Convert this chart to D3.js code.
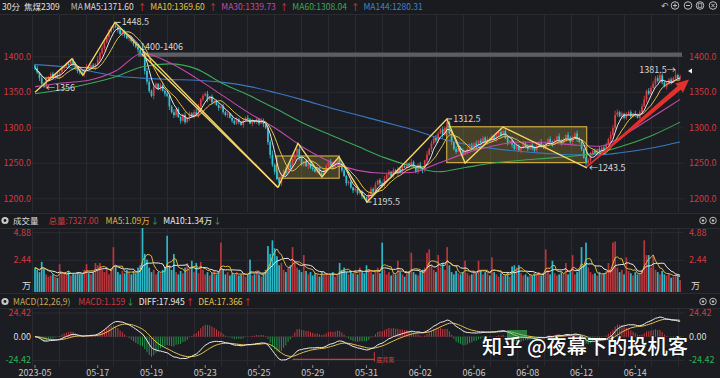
<!DOCTYPE html>
<html><head><meta charset="utf-8">
<script src="https://cdn.jsdelivr.net/npm/d3@7"></script>
<style>
html,body{margin:0;padding:0;background:#1c1d22;}
svg{display:block;font-family:"Noto Sans CJK SC","Noto Sans",sans-serif;}
</style></head>
<body><svg id="c" width="720" height="378"></svg>
<script>
// ---------------- DATA ----------------
const firstOpen = 1388;
const closes = [
1384,1378,1370,1362,1358, 1368,1372,1376,1370,1374,1372, 1378,1384,1386,1390,1388,1394, 1390,1384,1380,1378,1376, 1382,1386,1384,1388,1385,1390,
1396,1405,1412,1420,1428,1435,1440,1444, 1442,1438,1432,1436,1430,1426,1428,1422, 1418,1414,1410,1405,1402,
1380,1365,1352,1345,1358, 1362,1355,1360,1352,1348,1345, 1330,1322,1318,1326,1315, 1310,1318,1308,1314,1320,1316,
1322,1318,1330,1340,1345, 1348,1340,1344,1336,1338, 1332,1328,1330,1322,1318,1320,
1314,1310,1306,1312,1308,1304,1310,1314,1312,1306,1310, 1308,1312,1306,1310,1305,1300,
1280,1262,1248,1238,1228,1222, 1232,1240,1236,1248,1244,1256,1262, 1270,1258,1248,1252,1246,
1250,1244,1242,1238,1244,1236,1234, 1240,1246,1252,1248,1244,1250,1256,1250, 1240,1232,1222,1224,1216,1212,
1214,1208,1210,1204,1202,1198,1206, 1214,1210,1220,1226,1222,1218,1228, 1234,1238,1232,1240,1236,1242,1238,1246,1244,
1250,1246,1252,1244,1238,1248,1242, 1240,1254,1262,1270,1278,1286,1282, 1292,1298,1290,1300,1308,
1292,1280,1270,1266,1272,1268,1262,1266, 1270,1276,1272,1278,1274,1282,1278,1286,
1280,1284,1282,1288,1284,1290,1294,1290,1296, 1286,1278,1282,1276,1270,1274,1268,1272,1278,1274,1270,
1276,1272,1268,1274,1280,1276,1272,1278,1284,1280,1276,1282, 1288,1282,1278,1284,1290,1286,1280,1286,1292,1284,1280,
1270,1258,1250,1254, 1262,1268,1264,1270,1266,1272,1268,1276, 1284,1290,1300,1318,
1322,1316,1320,1314,1318,1322,1316,1320,1318,1314,1322, 1330,1340,1352,1348,1356,
1362,1370,1366,1374,1364,1358, 1362,1368,1364,1370,1374,1370,1372];
const wickHi = ("2313241232 3142231423 2314223152 3424325232 2431324253 4325213423 3241322413 2354232413 2231423142 3213242313 " +
 "2431536242 3252413243 2413224132 3241523142 2314232213 3241324231 4231423142 3243152424 3242523142 2314232413 " +
 "3242314253 2413243142 3142324132 4231423142 3243412342 3142432546 4231423142 3452434344 324232823").replace(/ /g,"");
const wickLo = ("3242231423 2314231423 3142231423 2314232413 3142324215 4325423142 5243142314 2314231423 3142324132 2314231423 " +
 "3142453425 4231423142 3142314231 2413242314 3242324232 4231423142 3142314231 2314231423 3142314231 2314231423 " +
 "3142314231 2314231423 3142314231 2314231423 3142326342 2314231423 3142314231 2314231423 314231423").replace(/ /g,"");
// volume per bar, in thousands of lots
const volumes = [
18,16,14,23,17,12,10,11,12,10, 9,21,14,13,12,15,11,13,12,14, 12,13,16,21,13,12,14,22,20,22,
16,14,18,12,15,36,19,14,12,15, 13,16,14,12,15,13,18,20,54,30, 25,18,14,16,12,14,13,16,18,46,
20,16,30,14,12,15,13,18,22,16, 24,14,22,13,23,16,12,14,11,13, 15,12,14,40,16,12,14,11,13,12,
14,11,12,13,10,12,25,11,12,14, 12,10,13,16,37,30,42,35,28,20, 22,16,14,18,20,36,24,18,16,14,
29,15,12,14,11,13,12,10,14,12, 13,11,12,14,10,12,22,16,18,14, 12,15,13,16,12,18,14,13,20,16,
14,12,15,18,13,40,16,12,14,11, 13,12,24,14,12,10,13,15,31,14, 12,11,14,16,18,31,34,20,16,14,
29,18,22,16,36,20,14,12,15,13, 12,14,24,13,11,12,14,13,24,15, 12,14,13,11,27,14,12,10,13,11,
12,14,10,19,20,18,20,13,11,12, 10,12,11,13,12,14,11,13,34,16, 12,24,13,11,12,14,13,22,12,14,
29,12,14,16,36,20,40,18,14,12, 13,11,14,12,13,15,22,16,40,41, 18,14,16,12,27,15,13,11,14,12,
13,16,42,29,29,18,28,16,14,12, 15,12,11,13,9,10,12,11,7];
// slow moving averages, one value per trading day (every 12 bars)
const ma30Daily  = [1358,1363,1367,1380,1405,1392,1370,1345,1320,1298,1272,1252,1240,1236,1237,1250,1264,1274,1280,1279,1276,1274,1292,1316,1340];
const ma60Daily  = [1348,1354,1362,1372,1386,1390,1383,1362,1345,1326,1306,1290,1274,1258,1246,1238,1244,1250,1254,1257,1260,1265,1276,1290,1308];
const ma144Daily = [1389,1386,1380,1373,1370,1368,1367,1364,1358,1349,1339,1328,1318,1308,1298,1286,1277,1271,1267,1264,1262,1262,1266,1272,1280];
const tickIdx    = [0,28,52,76,100,124,148,172,196,220,244,268];
const tickLabels = ["2023-05","05-17","05-19","05-23","05-25","05-29","05-31","06-02","06-06","06-08","06-12","06-14"];
const priceTicks = [1400,1350,1300,1250,1200];
const volTicks   = [4.88,2.44];      // in 万 (10k lots)
const macdTicks  = [24.42,0,-24.42];
// drawn annotations: [bar index, price]
const zigMain  = [[0,1350],[16.5,1397],[21.4,1374],[35.7,1448.5],[108.5,1216]];
const zigPar   = [[47.7,1404],[108.5,1216]];
const zigSecond= [[108.5,1216],[117.4,1278],[128.1,1231],[135.7,1259],[148.2,1195.5],[183.9,1312.5],[192,1250.4],[208.9,1301],[246.4,1243.5]];
const boxes    = [[107.9,135.8,1229,1260.3],[183.8,246.3,1251,1301.5]];
const band     = [46,1400,1406];
const redArrow = [[246.3,1245],[292,1368]];
const pointLabels = [[36,1448.5,"1448.5","r"],[4,1356,"1356","l"],[148,1195.5,"1195.5","r"],[184,1312.5,"1312.5","r"],[246.4,1243.5,"1243.5","l"],[286.5,1381.5,"1381.5","rr"]];

// ---------------- DERIVED ----------------
const N = closes.length;
const opens = closes.map((c,i)=> i===0 ? firstOpen : closes[i-1]);
const highs = closes.map((c,i)=> Math.max(c,opens[i]) + (+wickHi[i]));
const lows  = closes.map((c,i)=> Math.min(c,opens[i]) - (+wickLo[i]));
function sma(arr,n){return arr.map((v,i)=>{const s=Math.max(0,i-n+1);const a=arr.slice(s,i+1);return d3.mean(a);});}
function ema(arr,n){const k=2/(n+1);const o=[];arr.forEach((v,i)=>o.push(i===0?v:v*k+o[i-1]*(1-k)));return o;}
const ma5 = sma(closes,5), ma10 = sma(closes,10);
const volW = volumes.map(v=>v/10);   // 万
const vma5 = sma(volW,5), vma10 = sma(volW,10);
const e12 = ema(closes,12), e26 = ema(closes,26);
const diff = e12.map((v,i)=>v-e26[i]);
const dea = ema(diff,9);
const hist = diff.map((v,i)=>2*(v-dea[i]));

// ---------------- SCALES ----------------
const svg = d3.select("#c");
const x = d3.scaleLinear().domain([0,288]).range([35,680.1]);
const y = d3.scaleLinear().domain([1200,1400]).range([198.8,56.8]);
const yv = d3.scaleLinear().domain([0,4.88]).range([288,232.6]);
const ym = d3.scaleLinear().domain([-24.42,24.42]).range([360.4,313.0]);
const L=32, R=684;
const P = {main:[14,212], vol:[228,292], macd:[308,366]};

const defs = svg.append("defs");
Object.entries(P).forEach(([k,[t,b]])=>{
  defs.append("clipPath").attr("id","clip-"+k).append("rect").attr("x",L).attr("y",t).attr("width",R-L).attr("height",b-t);
});

svg.append("rect").attr("x",0).attr("y",0).attr("width",720).attr("height",14).attr("fill","#1a1b1f");
svg.append("rect").attr("x",0).attr("y",213).attr("width",720).attr("height",15).attr("fill","#1a1b1f");
svg.append("rect").attr("x",0).attr("y",293).attr("width",720).attr("height",15).attr("fill","#1a1b1f");
[14,213,228,293,308].forEach(v=>svg.append("line").attr("x1",0).attr("x2",720).attr("y1",v+0.5).attr("y2",v+0.5).attr("stroke","#2b2c32"));

const grid = svg.append("g").attr("stroke","#2a2b31").attr("stroke-width",1);
d3.range(25).forEach(k=>{
  const gx = Math.round(32+26.93*k)+0.5;
  Object.values(P).forEach(([t,b])=>grid.append("line").attr("x1",gx).attr("x2",gx).attr("y1",t).attr("y2",b));
});
priceTicks.forEach(p=>grid.append("line").attr("x1",L).attr("x2",R).attr("y1",y(p)).attr("y2",y(p)));
volTicks.forEach(v=>grid.append("line").attr("x1",L).attr("x2",R).attr("y1",yv(v)).attr("y2",yv(v)));
macdTicks.forEach(v=>grid.append("line").attr("x1",L).attr("x2",R).attr("y1",ym(v)).attr("y2",ym(v)));

// ---------------- MAIN PANEL ----------------
const gm = svg.append("g").attr("clip-path","url(#clip-main)");
gm.append("rect").attr("x",x(band[0])).attr("width",682-x(band[0])).attr("y",y(band[2])).attr("height",y(band[1])-y(band[2])).attr("fill","#5d5e63");
boxes.forEach(b=>gm.append("rect").attr("x",x(b[0])).attr("width",x(b[1])-x(b[0])).attr("y",y(b[3])).attr("height",y(b[2])-y(b[3]))
  .attr("fill","rgba(170,150,60,0.30)").attr("stroke","#c9a843").attr("stroke-width",1.2));

const up = "#d8414a", dn = "#33c3cf";
const cg = gm.append("g");
closes.forEach((c,i)=>{
  const col = c>=opens[i]?up:dn;
  cg.append("line").attr("x1",x(i)).attr("x2",x(i)).attr("y1",y(highs[i])).attr("y2",y(lows[i])).attr("stroke",col).attr("stroke-width",0.8);
  const yt=y(Math.max(c,opens[i])), yb=y(Math.min(c,opens[i]));
  cg.append("rect").attr("x",x(i)-0.85).attr("width",1.7).attr("y",yt).attr("height",Math.max(0.8,yb-yt)).attr("fill",col);
});
const lineI = d3.line().x((d,i)=>x(i)).y(d=>y(d));
const lineD = d3.line().x((d,k)=>x(k*12)).y(d=>y(d)).curve(d3.curveMonotoneX);
gm.append("path").attr("d",lineD(ma144Daily)).attr("fill","none").attr("stroke","#3a78c2").attr("stroke-width",1.1);
gm.append("path").attr("d",lineD(ma60Daily)).attr("fill","none").attr("stroke","#3aa856").attr("stroke-width",1.1);
gm.append("path").attr("d",lineD(ma30Daily)).attr("fill","none").attr("stroke","#c24aa8").attr("stroke-width",1.1);
gm.append("path").attr("d",lineI(ma10)).attr("fill","none").attr("stroke","#e3c248").attr("stroke-width",1);
gm.append("path").attr("d",lineI(ma5)).attr("fill","none").attr("stroke","#e6e6e6").attr("stroke-width",1);

const zl = d3.line().x(d=>x(d[0])).y(d=>y(d[1]));
[zigMain,zigPar,zigSecond].forEach(z=>gm.append("path").attr("d",zl(z)).attr("fill","none").attr("stroke","#f3d663").attr("stroke-width",1.4));

(function(){
  const x0=x(redArrow[0][0]), y0=y(redArrow[0][1]), x1=x(redArrow[1][0]), y1=y(redArrow[1][1]);
  const dx=x1-x0, dy=y1-y0, len=Math.hypot(dx,dy), ux=dx/len, uy=dy/len, nx=-uy, ny=ux;
  const hl=13, hw=6, sw=2.5;
  const bx=x1-ux*hl, by=y1-uy*hl;
  const pts=[[x0+nx*0.7,y0+ny*0.7],[bx+nx*sw,by+ny*sw],[bx+nx*hw,by+ny*hw],[x1,y1],[bx-nx*hw,by-ny*hw],[bx-nx*sw,by-ny*sw],[x0-nx*0.7,y0-ny*0.7]];
  svg.append("polygon").attr("points",pts.map(p=>p.join(",")).join(" ")).attr("fill","#e3302a");
})();

const lab = svg.append("g").attr("font-size",9).attr("fill","#d6d6d6");
pointLabels.forEach(([i,p,t,side])=>{
  const px=x(i), py=y(p);
  if(side==="r"){
    lab.append("line").attr("x1",px).attr("x2",px+5).attr("y1",py).attr("y2",py).attr("stroke","#d6d6d6");
    lab.append("text").attr("x",px+6).attr("y",py+3).text(t);
  } else if(side==="l"){
    lab.append("text").attr("x",px+2).attr("y",py+3).text("←"+t);
  } else {
    lab.append("text").attr("x",px-1).attr("y",py+3).attr("text-anchor","end").text(t+"→");
  }
});
lab.append("text").attr("x",x(band[0])+2).attr("y",y(band[2])-3).text("1400-1406");
svg.append("path").attr("d","M688,71 L692,68.5 L692,73.5 Z").attr("fill","#f0f0f0");

const ax = svg.append("g").attr("font-size",9).attr("fill","#d0393f");
priceTicks.forEach(p=>{
  ax.append("text").attr("x",31).attr("y",y(p)+3).attr("text-anchor","end").text(p.toFixed(1));
  ax.append("text").attr("x",689).attr("y",y(p)+3).text(p.toFixed(1));
});

// ---------------- VOLUME PANEL ----------------
const gv = svg.append("g").attr("clip-path","url(#clip-vol)");
volW.forEach((v,i)=>{
  gv.append("rect").attr("x",x(i)-0.85).attr("width",1.7).attr("y",yv(v)).attr("height",yv(0)-yv(v)+4)
    .attr("fill",closes[i]>=opens[i]?"#b8363d":"#2cb8c6");
});
const lv = d3.line().x((d,i)=>x(i)).y(d=>yv(d));
gv.append("path").attr("d",lv(vma10)).attr("fill","none").attr("stroke","#ececec").attr("stroke-width",1);
gv.append("path").attr("d",lv(vma5)).attr("fill","none").attr("stroke","#e0b43c").attr("stroke-width",1);
volTicks.forEach(v=>{
  ax.append("text").attr("x",31).attr("y",yv(v)+3).attr("text-anchor","end").text(v.toFixed(2));
  ax.append("text").attr("x",689).attr("y",yv(v)+3).text(v.toFixed(2));
});
svg.append("text").attr("x",31).attr("y",289).attr("text-anchor","end").attr("font-size",9).attr("fill","#dcdcdc").text("万");
svg.append("text").attr("x",691).attr("y",289).attr("font-size",9).attr("fill","#dcdcdc").text("万");

// ---------------- MACD PANEL ----------------
const gmc = svg.append("g").attr("clip-path","url(#clip-macd)");
hist.forEach((h,i)=>{
  gmc.append("rect").attr("x",x(i)-0.5).attr("width",1).attr("y",Math.min(ym(h),ym(0))).attr("height",Math.abs(ym(h)-ym(0)))
    .attr("fill",h>=0?"#c23b42":"#24924a");
});
const lm = d3.line().x((d,i)=>x(i)).y(d=>ym(d));
gmc.append("path").attr("d",lm(dea)).attr("fill","none").attr("stroke","#e3c248").attr("stroke-width",1);
gmc.append("path").attr("d",lm(diff)).attr("fill","none").attr("stroke","#ececec").attr("stroke-width",1);
gmc.append("line").attr("x1",x(115)).attr("x2",x(151.5)).attr("y1",ym(-23.4)).attr("y2",ym(-23.4)).attr("stroke","#d23a3a").attr("stroke-width",1.2);
gmc.append("line").attr("x1",x(151.5)).attr("x2",x(151.5)).attr("y1",ym(-16)).attr("y2",ym(-25.5)).attr("stroke","#d23a3a").attr("stroke-width",1);
svg.append("text").attr("x",x(151.5)+2).attr("y",ym(-23.4)+3).attr("font-size",6).attr("fill","#e04040").text("底背离");
gmc.append("rect").attr("x",507).attr("y",330).attr("width",20).attr("height",7).attr("fill","rgba(60,200,90,0.55)");

const mcol = {"24.42":"#d0393f","0":"#dcdcdc","-24.42":"#2fae5a"};
macdTicks.forEach(v=>{
  const t = v.toFixed(2);
  svg.append("text").attr("x",31).attr("y",ym(v)+3).attr("text-anchor","end").attr("font-size",9).attr("fill",mcol[String(v)]).text(t);
  svg.append("text").attr("x",689).attr("y",ym(v)+3).attr("font-size",9).attr("fill",mcol[String(v)]).text(t);
});

const da = svg.append("g").attr("font-size",9).attr("fill","#c8c8c8");
tickIdx.forEach((ti,k)=>{
  da.append("line").attr("x1",x(ti)).attr("x2",x(ti)).attr("y1",365).attr("y2",368).attr("stroke","#8a8a8a");
  da.append("text").attr("x",x(ti)).attr("y",376).attr("text-anchor","middle").text(tickLabels[k]);
});

// ---------------- HEADERS ----------------
function seq(g,x0,yy,parts){let cx=x0;parts.forEach(([t,c,gap])=>{const el=g.append("text").attr("x",cx).attr("y",yy).attr("fill",c).text(t);cx+=el.node().getComputedTextLength()+(gap||0);});}
const hd = svg.append("g").attr("font-size",8.5);
seq(hd,2,9.5,[["30分","#e0e0e0",4],["焦煤2309","#e0e0e0",11],["MA","#bdbdbd",1],["MA5:1371.60","#dedede",4],["↑","#e03a3a",4],["MA10:1369.60","#e3c248",4],["↑","#e03a3a",4],["MA30:1339.73","#c24aa8",4],["↑","#e03a3a",4],["MA60:1308.04","#3aa856",4],["↑","#e03a3a",4],["MA144:1280.31","#3a86d0",0]]);
function icon(cx,cy){const g=svg.append("g");g.append("circle").attr("cx",cx).attr("cy",cy).attr("r",3.8).attr("fill","none").attr("stroke","#bdbdbd").attr("stroke-width",1);return g;}
[675,688,700,713].forEach((cx,k)=>{const g=icon(cx,5.5);
  if(k===0){g.append("path").attr("d",`M${cx-2},${5.5}h4M${cx},3.5v4`).attr("stroke","#bdbdbd");}
  if(k===1){g.append("path").attr("d",`M${cx-2},${5.5}h4`).attr("stroke","#bdbdbd");}
  if(k===2){g.append("rect").attr("x",cx-1.8).attr("y",3.7).attr("width",3.6).attr("height",3.6).attr("fill","none").attr("stroke","#bdbdbd").attr("stroke-width",0.8);}
  if(k===3){g.append("path").attr("d",`M${cx-1.6},3.9l3.2,3.2M${cx+1.6},3.9l-3.2,3.2`).attr("stroke","#bdbdbd");}
});
svg.append("text").attr("x",661).attr("y",9).attr("font-size",9).attr("fill","#bdbdbd").text("↶");

const vh = svg.append("g").attr("font-size",8.5);
function dotIcon(cx,cy){svg.append("circle").attr("cx",cx).attr("cy",cy).attr("r",3.6).attr("fill","#c8c8c8");svg.append("circle").attr("cx",cx).attr("cy",cy).attr("r",1.4).attr("fill","#1a1b1f");}
dotIcon(5,220.5);
seq(vh,13,224,[["成交量","#dcdcdc",10],["总量:7327.00","#d0393f",7],["MA5:1.09万","#e0b43c",1],["↓","#2fae5a",4],["MA10:1.34万","#ececec",1],["↓","#2fae5a",0]]);
dotIcon(5,301.5);
seq(vh,13,305,[["MACD(12,26,9)","#c9a85a",8],["MACD:1.159","#d0393f",1],["↓","#2fae5a",4],["DIFF:17.945","#ececec",1],["↑","#e03a3a",4],["DEA:17.366","#e3c248",1],["↑","#e03a3a",0]]);
[[703,220.5],[713,220.5],[703,301.5],[713,301.5]].forEach(([cx,cy])=>{const g=icon(cx,cy);g.select("circle").attr("r",3.3);
  g.append("circle").attr("cx",cx).attr("cy",cy).attr("r",1.2).attr("fill","#bdbdbd");});

svg.append("text").attr("x",482).attr("y",354).attr("font-size",20.2).attr("fill","#ffffff").attr("font-weight",500)
  .attr("style","paint-order:stroke;stroke:rgba(0,0,0,0.35);stroke-width:1.5px").text("知乎 @夜幕下的投机客");
</script>
</body></html>
